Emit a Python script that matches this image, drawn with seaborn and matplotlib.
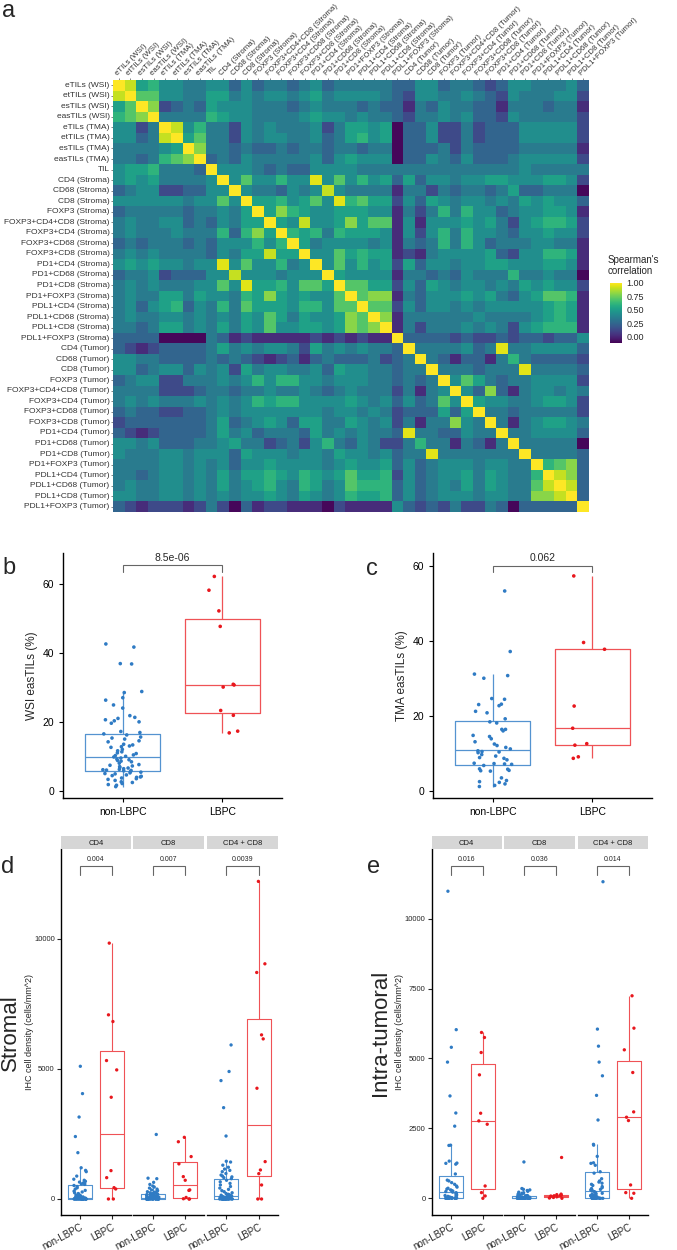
import numpy as np
import pandas as pd
import matplotlib
matplotlib.use("Agg")
import matplotlib.pyplot as plt
import seaborn as sns

W, H = 677, 1250

# ---------------- panel a: Spearman correlation matrix ----------------
features = [
    "eTILs (WSI)", "etTILs (WSI)", "esTILs (WSI)", "easTILs (WSI)",
    "eTILs (TMA)", "etTILs (TMA)", "esTILs (TMA)", "easTILs (TMA)", "TIL",
    "CD4 (Stroma)", "CD68 (Stroma)", "CD8 (Stroma)", "FOXP3 (Stroma)",
    "FOXP3+CD4+CD8 (Stroma)", "FOXP3+CD4 (Stroma)", "FOXP3+CD68 (Stroma)",
    "FOXP3+CD8 (Stroma)", "PD1+CD4 (Stroma)", "PD1+CD68 (Stroma)",
    "PD1+CD8 (Stroma)", "PD1+FOXP3 (Stroma)", "PDL1+CD4 (Stroma)",
    "PDL1+CD68 (Stroma)", "PDL1+CD8 (Stroma)", "PDL1+FOXP3 (Stroma)",
    "CD4 (Tumor)", "CD68 (Tumor)", "CD8 (Tumor)", "FOXP3 (Tumor)",
    "FOXP3+CD4+CD8 (Tumor)", "FOXP3+CD4 (Tumor)", "FOXP3+CD68 (Tumor)",
    "FOXP3+CD8 (Tumor)", "PD1+CD4 (Tumor)", "PD1+CD68 (Tumor)",
    "PD1+CD8 (Tumor)", "PD1+FOXP3 (Tumor)", "PDL1+CD4 (Tumor)",
    "PDL1+CD68 (Tumor)", "PDL1+CD8 (Tumor)", "PDL1+FOXP3 (Tumor)",
]

# colour levels, one character per cell
level_values = {"0": -0.10, "1": 0.02, "2": 0.13, "3": 0.24, "4": 0.34,
                "5": 0.43, "6": 0.52, "7": 0.61, "8": 0.70, "9": 0.80,
                "A": 0.90, "B": 0.95}

# upper triangle, row i holds the cells right of the diagonal
upper_rows = [
    "A675544553" "5344345344" "4443355344" "3235544453",
    "8855446645" "4554564555" "5432554454" "325444552",
    "9234365554" "4434544434" "3314354433" "14443441",
    "4444765544" "4456554544" "3244545332" "5444442",
    "A574425454" "4452466560" "3352242333" "555552",
    "6844254554" "4534675603" "3522423335" "55552",
    "9443433434" "4344344033" "3424333344" "4441",
    "3435444445" "3565550335" "4353334555" "552",
    "5554343355" "5544444444" "4444445444" "44",
    "5855755B58" "5756363554" "5566555665" "2",
    "5443545A54" "4441442434" "4346334440",
    "6675685B78" "6625365455" "454656553",
    "6976556665" "5142474755" "34556651",
    "65A5569688" "1515556564" "2567762",
    "7674766651" "5257475543" "556552",
    "6455554514" "3474753444" "55441",
    "5586766121" "4555563255" "7761",
    "5857562635" "5455665556" "651",
    "6555514434" "3544474454" "40",
    "8866253654" "5545465655" "2",
    "8991435556" "5643568871",
    "8825355454" "555556761",
    "9144444454" "44456761",
    "1424445454" "2567771",
    "3333232232" "332335",
    "4444534B44" "55553",
    "4313314743" "3332",
    "4443444B44" "443",
    "5864344555" "52",
    "5393145545" "4",
    "6554456652",
    "443444442",
    "41456654",
    "4455553",
    "444440",
    "44443",
    "7893",
    "A93",
    "A3",
    "3",
]

# ---------------- panels b, c: easTILs ----------------
groups = ["non-LBPC", "LBPC"]

wsi_non = [42.6, 41.7, 36.9, 36.8, 28.8, 28.5, 27.0, 26.3, 24.9, 24.0,
           21.8, 21.3, 21.0, 20.6, 20.3, 20.0, 19.6, 17.2, 16.9,
           16.5, 16.2, 15.6, 15.3, 15.0, 14.5, 14.2, 13.5, 13.3, 13.0,
           12.8, 12.6, 12.0, 11.6, 11.3, 11.0, 10.8, 10.4, 10.2, 10.0,
           9.8, 9.5, 9.2, 9.0, 8.8, 8.6, 8.4, 8.0, 7.6, 7.4,
           7.2, 7.0, 6.8, 6.6, 6.4, 6.2, 6.1, 6.0, 5.9, 5.8,
           5.6, 5.4, 5.2, 5.0, 4.9, 4.6, 4.4, 4.2, 4.0, 3.9,
           3.7, 3.5, 3.3, 3.0, 2.6, 2.4, 2.1, 1.8, 1.6, 1.2]
wsi_lbpc = [62.2, 58.2, 52.2, 47.7, 30.9, 30.7, 30.1, 23.3, 21.9, 17.3, 16.8]

tma_non = [53.3, 37.2, 31.2, 30.8, 30.1, 24.7, 24.5, 23.2, 23.1, 22.8,
           21.3, 20.9, 19.3, 18.5, 18.2, 16.5, 16.5, 16.1, 14.9, 14.6,
           14.0, 13.2, 12.6, 12.2, 11.7, 11.3, 10.8, 10.6, 10.5, 10.3,
           9.8, 9.4, 9.0, 8.8, 8.4, 7.5, 7.4, 7.3, 7.2, 6.9,
           6.0, 5.9, 5.6, 5.5, 5.4, 3.6, 2.9, 2.6, 2.4, 2.0, 1.6, 1.3]
tma_lbpc = [57.3, 39.6, 37.8, 22.7, 16.8, 12.7, 12.3, 9.2, 8.8]

# ---------------- panels d, e: IHC densities ----------------
markers = ["CD4", "CD8", "CD4 + CD8"]

stromal_non = {
    "CD4": [5100, 4050, 3150, 2400, 1780, 1200, 1100, 1050, 880, 760,
            720, 680, 650, 620, 600, 580, 560, 520, 480, 430,
            380, 330, 300, 270, 240, 210, 180, 150, 130, 110,
            95, 80, 70, 62, 55, 48, 42, 36, 30, 25,
            20, 16, 12, 10, 8, 6, 5, 4, 3, 2, 1] + [0] * 18,
    "CD8": [2480, 800, 780, 640, 560, 500, 460, 420, 380, 350,
            320, 300, 280, 260, 240, 230, 220, 200, 185, 170,
            155, 140, 128, 116, 105, 95, 86, 78, 70, 64,
            58, 54, 50, 46, 42, 38, 34, 30, 26, 22,
            18, 15, 12, 9, 6, 4, 2, 1] + [0] * 21,
    "CD4 + CD8": [5920, 4900, 4550, 3510, 2420, 1450, 1420, 1300, 1220, 1150,
                  1100, 1050, 980, 920, 880, 850, 820, 780, 720, 660,
                  600, 540, 480, 420, 370, 320, 280, 240, 210, 180,
                  160, 145, 130, 118, 105, 95, 85, 75, 65, 58,
                  50, 45, 40, 35, 30, 25, 20, 16, 12, 8, 5, 3, 1] + [0] * 16,
}
stromal_lbpc = {
    "CD4": [9833, 7077, 6820, 5320, 4961, 3910, 1090, 820, 436, 385, 0, 0],
    "CD8": [2370, 2200, 1630, 1350, 860, 720, 350, 330, 60, 10, 0, 0],
    "CD4 + CD8": [12205, 9038, 8705, 6307, 6153, 4256, 1436, 1115, 974, 538, 0, 0],
}
tumoral_non = {
    "CD4": [10980, 6030, 5400, 4870, 3660, 3050, 2580, 1900, 1890, 1330,
            1260, 1250, 1220, 870, 650, 620, 560, 500, 440, 400,
            360, 330, 300, 280, 260, 240, 220, 200, 180, 160,
            140, 120, 100, 85, 70, 55, 40, 30, 20, 10, 5] + [0] * 13,
    "CD8": [1300, 350, 320, 300, 280, 250, 220, 200, 180, 160,
            150, 130, 110, 100, 90, 80, 70, 60, 55, 50,
            45, 40, 35, 30, 25, 22, 20, 18, 15, 12,
            10, 8, 6, 5, 4, 3, 2, 1] + [0] * 16,
    "CD4 + CD8": [11320, 6050, 5440, 4870, 4380, 3680, 2800, 1930, 1900, 1500,
                  1270, 1250, 1180, 950, 900, 700, 620, 580, 540, 500,
                  460, 420, 380, 350, 320, 300, 280, 260, 240, 210,
                  180, 160, 140, 120, 100, 80, 65, 50, 40, 30,
                  20, 10, 5, 2] + [0] * 10,
}
tumoral_lbpc = {
    "CD4": [5930, 5750, 5213, 4414, 3042, 2768, 2648, 441, 203, 84, 0],
    "CD8": [1460, 150, 130, 110, 100, 90, 80, 60, 30, 10, 0],
    "CD4 + CD8": [7241, 6084, 5309, 4498, 3090, 2899, 2780, 477, 203, 180, 0],
}

pvals_b = "8.5e-06"
pvals_c = "0.062"
pvals_d = ["0.004", "0.007", "0.0039"]
pvals_e = ["0.016", "0.036", "0.014"]

box_pal = {"non-LBPC": "#5493d0", "LBPC": "#ef5256"}
pt_pal = {"non-LBPC": "#2f7bc4", "LBPC": "#e8171d"}

sns.set_style("ticks")
plt.rcParams["font.family"] = ["Liberation Sans", "DejaVu Sans"]
np.random.seed(7)

fig = plt.figure(figsize=(W / 100, H / 100), dpi=100)


def px_axes(x0, y0, x1, y1):
    return fig.add_axes([x0 / W, 1 - y1 / H, (x1 - x0) / W, (y1 - y0) / H])


def long_df(non, lbpc):
    return pd.DataFrame({"group": ["non-LBPC"] * len(non) + ["LBPC"] * len(lbpc),
                         "value": list(non) + list(lbpc)})


def box_and_points(ax, df, size, lw):
    sns.boxplot(data=df, x="group", y="value", hue="group", order=groups,
                hue_order=groups, palette=box_pal, fill=False, width=0.75,
                linewidth=lw, showfliers=False, showcaps=False, legend=False, ax=ax)
    sns.stripplot(data=df, x="group", y="value", hue="group", order=groups,
                  hue_order=groups, palette=pt_pal, jitter=0.2, size=size,
                  linewidth=0, legend=False, ax=ax, zorder=3)
    ax.set_xlim(-0.6, 1.6)
    ax.set_xlabel("")
    ax.set_ylabel("")
    for s in ["top", "right"]:
        ax.spines[s].set_visible(False)
    for s in ["left", "bottom"]:
        ax.spines[s].set_linewidth(1.0)
        ax.spines[s].set_color("black")


def bracket(ax, y_lo, y_hi, y_txt, label, fs):
    ax.plot([0, 0, 1, 1], [y_lo, y_hi, y_hi, y_lo], color="#666666", lw=0.8,
            solid_joinstyle="miter", clip_on=False)
    ax.text(0.5, y_txt, label, ha="center", va="bottom", fontsize=fs, clip_on=False)


# ---- heatmap ----
n = len(features)
corr = np.eye(n)
for i, row in enumerate(upper_rows):
    assert len(row) == n - 1 - i, (i, len(row))
    for k, ch in enumerate(row):
        j = i + 1 + k
        corr[i, j] = corr[j, i] = level_values[ch]
corr_df = pd.DataFrame(corr, index=features, columns=features)

ax_a = px_axes(113, 80, 589, 512)
cax = px_axes(610, 283, 622, 343)
sns.heatmap(corr_df, ax=ax_a, cmap="viridis", vmin=-0.12, vmax=1.0,
            cbar_ax=cax, xticklabels=True, yticklabels=True,
            cbar_kws={"ticks": [0, 0.25, 0.5, 0.75, 1.0]})
ax_a.xaxis.tick_top()
ax_a.set_xticklabels(features, rotation=45, ha="left", va="bottom",
                     rotation_mode="anchor", fontsize=5.6, color="#333333")
ax_a.set_yticklabels(features, rotation=0, fontsize=6, color="#333333")
ax_a.tick_params(axis="both", length=1.5, width=0.5, color="#555555", pad=1)
ax_a.set_xlabel("")
ax_a.set_ylabel("")
cax.set_yticklabels(["0.00", "0.25", "0.50", "0.75", "1.00"], fontsize=6.5)
cax.tick_params(axis="y", length=3, width=0.6, color="white", direction="in", pad=3)
for s in cax.spines.values():
    s.set_visible(False)
fig.text(608 / W, 1 - 276 / H, "Spearman's\ncorrelation", fontsize=7,
         ha="left", va="bottom", linespacing=1.1)

# ---- panel b ----
ax_b = px_axes(63, 553, 282, 798)
box_and_points(ax_b, long_df(wsi_non, wsi_lbpc), 2.6, 0.9)
ax_b.set_ylim(-2.1, 69.0)
ax_b.set_yticks([0, 20, 40, 60])
ax_b.set_ylabel("WSI easTILs (%)", fontsize=8.5, labelpad=3)
ax_b.tick_params(labelsize=7.5, length=3, width=0.8, colors="black")
bracket(ax_b, 63.5, 65.4, 66.2, pvals_b, 7.5)

# ---- panel c ----
ax_c = px_axes(433, 553, 652, 798)
box_and_points(ax_c, long_df(tma_non, tma_lbpc), 2.6, 0.9)
ax_c.set_ylim(-1.75, 63.4)
ax_c.set_yticks([0, 20, 40, 60])
ax_c.set_ylabel("TMA easTILs (%)", fontsize=8.5, labelpad=3)
ax_c.tick_params(labelsize=7.5, length=3, width=0.8, colors="black")
bracket(ax_c, 58.4, 60.0, 60.8, pvals_c, 7.5)


# ---- panels d, e ----
def facet_panel(x_edges, non_data, lbpc_data, ylim, yticks, pvals, br,
                side_label, side_x, ylab_x):
    for k, (x0, x1) in enumerate(x_edges):
        marker = markers[k]
        ax = px_axes(x0, 849, x1, 1215)
        box_and_points(ax, long_df(non_data[marker], lbpc_data[marker]), 2.4, 0.8)
        ax.set_ylim(*ylim)
        ax.set_yticks(yticks)
        ax.tick_params(axis="y", labelsize=5.5, length=3, width=0.8, pad=1.5)
        ax.tick_params(axis="x", labelsize=7, length=3, width=0.8, pad=2)
        plt.setp(ax.get_xticklabels(), rotation=28, ha="right", rotation_mode="anchor")
        if k > 0:
            ax.spines["left"].set_visible(False)
            ax.tick_params(axis="y", left=False, labelleft=False)
        bracket(ax, br[0], br[1], br[2], pvals[k], 5)

        strip = px_axes(x0, 836, x1, 849)
        strip.set_facecolor("#d6d6d6")
        strip.set_xticks([])
        strip.set_yticks([])
        for s in strip.spines.values():
            s.set_visible(False)
        strip.text(0.5, 0.45, marker, ha="center", va="center", fontsize=5.5,
                   color="#1a1a1a", transform=strip.transAxes)
    fig.text(ylab_x / W, 1 - 1032 / H, "IHC cell density (cells/mm^2)", fontsize=6.5,
             rotation=90, ha="center", va="center")
    fig.text(side_x / W, 1 - 1033 / H, side_label, fontsize=16,
             rotation=90, ha="center", va="center")


facet_panel([(61, 130.7), (133.3, 204), (206.7, 278.3)], stromal_non, stromal_lbpc,
            (-615, 13450), [0, 5000, 10000], pvals_d, (12460, 12807, 12900),
            "Stromal", 10, 29)
facet_panel([(431.7, 501.7), (504.3, 575), (577.7, 648.3)], tumoral_non, tumoral_lbpc,
            (-597, 12490), [0, 2500, 5000, 7500, 10000], pvals_e, (11572, 11894, 11990),
            "Intra-tumoral", 381, 399)

# panel letters
for letter, x, y in [("a", 2, 17), ("b", 2, 574), ("c", 366, 575), ("d", 1, 873), ("e", 367, 873)]:
    fig.text(x / W, 1 - y / H, letter, fontsize=17, ha="left", va="baseline")

fig.savefig("out.png", dpi=100)
